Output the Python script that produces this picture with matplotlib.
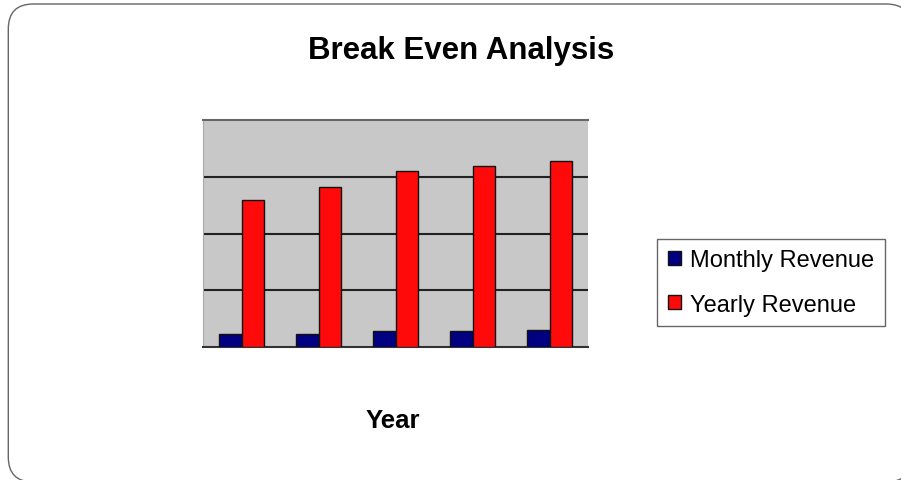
import matplotlib.pyplot as plt
from matplotlib.patches import FancyBboxPatch
import numpy as np

plt.rcParams['font.family'] = ['Liberation Sans', 'DejaVu Sans']

years = ['1', '2', '3', '4', '5']
monthly_revenue = [0.22, 0.23, 0.27, 0.28, 0.29]
yearly_revenue = [2.60, 2.83, 3.10, 3.19, 3.29]

fig = plt.figure(figsize=(9.01, 4.81), dpi=100)

# rounded slide frame (inches), runs off the right and bottom edges;
# white fill so the stroke is not clipped along the image border
frame = FancyBboxPatch((0.083, -0.02), 9.03, 4.78,
                       boxstyle='round,pad=0,rounding_size=0.25',
                       transform=fig.dpi_scale_trans, facecolor='white',
                       edgecolor='#666666', linewidth=1.0, zorder=-1)
fig.patches.append(frame)

ax = fig.add_axes([203 / 901, 133.5 / 481, 385 / 901, 226 / 481])
ax.set_facecolor('#C8C8C8')

x = np.arange(len(years))
w = 0.286
ax.bar(x - w / 2, monthly_revenue, w, color='#000080', edgecolor='#111111',
       linewidth=1.0, label='Monthly Revenue', zorder=3)
ax.bar(x + w / 2, yearly_revenue, w, color='#FF0A0A', edgecolor='#111111',
       linewidth=1.0, label='Yearly Revenue', zorder=3)

ax.set_xlim(-0.5, len(years) - 0.5)
ax.set_ylim(0, 4)
ax.set_yticks([1, 2, 3])
ax.yaxis.grid(True, color='#222222', linewidth=1.5, zorder=1)
ax.set_xticks([])
ax.tick_params(left=False, labelleft=False)

ax.spines['top'].set_color('#666666')
ax.spines['top'].set_linewidth(1.5)
ax.spines['bottom'].set_color('#333333')
ax.spines['bottom'].set_linewidth(1.5)
ax.spines['left'].set_color('#AAAAAA')
ax.spines['right'].set_visible(False)

fig.text(461 / 901, 1 - 51 / 481, 'Break Even Analysis', ha='center', va='center',
         fontsize=22.5, fontweight='bold')
fig.text(393 / 901, 1 - 421 / 481, 'Year', ha='center', va='center',
         fontsize=18.5, fontweight='bold')

leg = fig.legend(loc='center left', bbox_to_anchor=(657 / 901, 1 - 283.5 / 481),
                 fontsize=17, frameon=True, fancybox=False, framealpha=1,
                 edgecolor='#666666', handlelength=0.55, handleheight=0.55,
                 handletextpad=0.4, labelspacing=0.95, borderpad=0.45,
                 borderaxespad=0)
leg.get_frame().set_linewidth(1.0)

fig.savefig('out.png', dpi=100)
